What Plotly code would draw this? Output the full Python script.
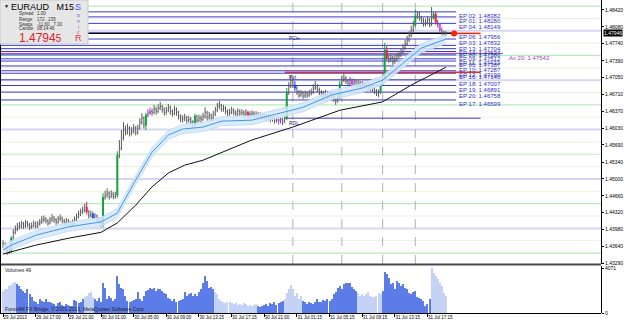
import plotly.graph_objects as go

W, H = 625, 324

# ---------------- data (prices x 1e4) ----------------
FIRST_OPEN = 14370
CLOSE = [14366,14362,14352,14356,14380,14392,14398,14403,14405,14409,
 14405,14411,14407,14403,14405,14409,14405,14409,14413,14417,
 14419,14415,14411,14417,14421,14417,14413,14419,14421,14415,
 14411,14415,14411,14407,14411,14417,14423,14429,14433,14437,
 14443,14433,14427,14429,14421,14425,14419,14415,14407,14463,
 14467,14471,14465,14469,14465,14467,14548,14562,14583,14599,
 14595,14603,14593,14597,14603,14593,14603,14615,14623,14609,
 14629,14633,14637,14635,14641,14637,14643,14647,14641,14635,
 14639,14645,14637,14633,14641,14635,14627,14623,14621,14625,
 14619,14621,14615,14611,14627,14619,14623,14621,14627,14635,
 14625,14629,14623,14631,14639,14647,14649,14641,14643,14637,
 14633,14635,14639,14635,14631,14637,14633,14635,14631,14635,
 14629,14631,14633,14629,14631,14627,14629,14625,14627,14623,
 14625,14621,14623,14619,14621,14617,14621,14617,14623,14676,
 14688,14700,14690,14684,14676,14670,14674,14668,14672,14670,
 14674,14676,14684,14688,14680,14676,14672,14670,14674,14668,
 14672,14666,14662,14658,14666,14692,14700,14704,14698,14694,
 14700,14692,14696,14690,14694,14688,14692,14688,14690,14686,
 14684,14682,14678,14674,14676,14692,14704,14761,14745,14741,
 14745,14737,14743,14749,14751,14757,14765,14773,14781,14791,
 14801,14811,14830,14834,14826,14822,14813,14817,14822,14813,
 14826,14834,14817,14813,14801,14797,14791,14794.5]
HIGH = [14376,14372,14366,14362,14384,14398,14406,14411,14413,14415,
 14413,14417,14415,14411,14412,14416,14414,14415,14419,14425,
 14426,14423,14419,14423,14429,14425,14421,14425,14428,14424,
 14419,14421,14419,14415,14418,14424,14430,14436,14440,14444,
 14450,14454,14437,14436,14434,14431,14428,14423,14418,14471,
 14476,14481,14475,14477,14474,14474,14556,14579,14599,14615,
 14608,14612,14607,14605,14611,14607,14610,14623,14633,14627,
 14634,14641,14645,14643,14650,14646,14651,14656,14650,14645,
 14646,14652,14648,14641,14648,14645,14638,14631,14629,14632,
 14628,14628,14625,14619,14632,14630,14630,14629,14634,14645,
 14638,14636,14632,14638,14646,14654,14658,14652,14650,14647,
 14641,14642,14646,14643,14639,14643,14641,14641,14639,14641,
 14638,14637,14639,14637,14637,14635,14635,14633,14633,14631,
 14631,14629,14629,14627,14627,14625,14627,14624,14629,14684,
 14696,14710,14704,14698,14688,14680,14680,14678,14679,14677,
 14680,14683,14692,14698,14692,14685,14680,14678,14680,14678,
 14678,14676,14670,14666,14672,14698,14708,14714,14708,14702,
 14706,14704,14702,14700,14700,14698,14698,14696,14696,14694,
 14692,14690,14686,14682,14681,14696,14712,14775,14769,14751,
 14752,14749,14750,14755,14758,14764,14773,14781,14790,14799,
 14810,14820,14842,14840,14838,14830,14826,14824,14829,14826,
 14848,14838,14838,14822,14815,14806,14800,14799]
LOW = [14360,14356,14346,14348,14350,14376,14388,14394,14398,14400,
 14399,14401,14402,14397,14399,14402,14400,14401,14405,14409,
 14412,14410,14405,14408,14413,14411,14407,14409,14414,14410,
 14404,14407,14405,14400,14403,14408,14414,14420,14425,14429,
 14432,14428,14420,14422,14416,14417,14413,14409,14402,14402,
 14458,14462,14458,14461,14459,14460,14462,14542,14558,14578,
 14588,14590,14586,14588,14592,14588,14590,14600,14610,14602,
 14599,14625,14629,14628,14631,14630,14633,14639,14634,14628,
 14630,14635,14630,14626,14629,14628,14620,14615,14614,14617,
 14612,14614,14608,14603,14606,14613,14615,14614,14617,14622,
 14618,14620,14616,14619,14627,14635,14641,14636,14636,14631,
 14627,14628,14631,14629,14625,14627,14628,14629,14626,14627,
 14624,14624,14626,14623,14624,14621,14622,14619,14620,14617,
 14618,14615,14616,14612,14614,14610,14612,14609,14613,14619,
 14670,14684,14684,14678,14670,14664,14666,14662,14664,14664,
 14666,14669,14672,14680,14675,14670,14666,14664,14666,14662,
 14664,14660,14656,14650,14654,14662,14688,14696,14692,14688,
 14690,14687,14688,14684,14686,14682,14684,14682,14683,14680,
 14678,14676,14672,14668,14666,14672,14688,14700,14740,14735,
 14737,14731,14733,14739,14744,14747,14753,14761,14769,14777,
 14787,14797,14807,14824,14820,14815,14808,14809,14812,14807,
 14809,14822,14812,14807,14797,14791,14787,14788]
VOLUME = [2006,2154,2213,2449,2508,2744,2803,2655,2449,2213,
 2006,1859,2154,1711,1416,1121,974,826,1269,1121,
 974,1269,1033,974,915,826,679,885,1033,738,
 679,826,738,620,679,1210,1121,915,1033,1269,
 1416,1564,1800,1918,1416,1269,1121,1328,974,2744,
 2301,1269,1564,1328,1121,1269,3334,2596,2301,2154,
 1564,1121,1033,1121,1210,1269,1918,1269,1121,1564,
 2006,2095,2301,2154,2301,2006,2154,2213,2006,1859,
 1711,1328,1269,1121,1269,1033,1121,1210,1269,1918,
 1564,1711,1800,1564,1711,1564,1918,2154,2744,3334,
 2891,2301,2390,2154,1918,1711,1269,1121,974,915,
 1033,974,915,826,885,767,826,738,915,826,
 679,738,620,738,826,679,531,620,738,826,
 679,915,826,974,738,915,974,1121,1269,1859,
 2154,2508,2213,1564,1859,1269,1564,1121,974,826,
 1033,915,826,1033,1269,1033,974,1210,1121,1269,
 1121,1269,1711,1918,2301,2449,2154,2596,2744,2744,
 2744,2390,2154,2006,1859,1564,1711,1564,1711,1918,
 1564,1416,1416,1564,1859,1711,2006,3776,3570,3186,
 2596,2744,2213,2891,2744,2449,2596,2301,2154,1859,
 1711,1918,2006,1416,1328,1269,1121,679,826,1269,
 4071,3688,3393,3098,2744,2449,1859,1564]
VOL_RUNS = [("L",7),("D",33),("L",5),("D",59),("L",21),("D",13),("L",9),("D",27),("L",12),("D",24),("L",8)]

GREEN_BARS = [4, 49, 56, 70, 94, 139, 165, 185, 187, 202, 211]
RED_BARS = [2, 41, 120, 188, 212]
BLUE_BARS = [44, 143]
PURPLE_BARS = [47, 72, 135, 171, 214]

# moving averages: (bar index, price x1e4)
MA_FAST_IDX = [0, 4, 16, 32, 48, 56, 65, 73, 81, 88, 98, 107, 122, 132, 147, 161, 176, 186, 196, 205, 217]
MA_FAST = [14356,14366,14386,14403,14413,14431,14498,14554,14589,14601,14605,14617,14619,14629,14645,14670,14684,14700,14734,14765,14783]
MA_SLOW_IDX = [0, 16, 32, 48, 56, 65, 73, 81, 89, 98, 122, 142, 165, 186, 200, 217]
MA_SLOW = [14348,14366,14380,14392,14411,14447,14484,14512,14528,14538,14579,14605,14639,14656,14690,14726]
BAND = 9

TIME_IDX = [0,16,32,48,64,80,96,112,128,144,160,176,192,208]
TIME_LABELS = ["29 Jul 2013","29 Jul 17:00","29 Jul 21:00","30 Jul 01:00","30 Jul 05:00","30 Jul 09:00",
               "30 Jul 13:15","30 Jul 17:15","30 Jul 21:00","31 Jul 01:15","31 Jul 05:15","31 Jul 09:15",
               "31 Jul 13:15","31 Jul 17:15"]
PRICE_TICKS = [1.48420,1.48080,1.47740,1.47390,1.47050,1.46710,1.46370,1.46030,1.45690,1.45340,
               1.45000,1.44660,1.44320,1.43980,1.43640,1.43290]
ROUND_LEVELS = [1.4850,1.4825,1.4800,1.4775,1.4750,1.4725,1.4700,1.4675,1.4650,1.4625,1.4600,1.4575,
                1.4550,1.4525,1.4500,1.4475,1.4450,1.4425,1.4400,1.4375,1.4350]

EP_NAMES = ["EP 02","EP 01","EP 04","EP 06","EP 03","EP 13","EP 14","EP 08","EP 09","EP 11","EP 05",
            "EP 10","EP 12","EP 16","EP 18","EP 19","EP 20","EP 17"]
EP_PRICES = [1.48382,1.48280,1.48149,1.47956,1.47832,1.47704,1.47637,1.47580,1.47512,1.47432,1.47387,
             1.47287,1.47190,1.47140,1.47007,1.46891,1.46758,1.46599]
AV20 = 1.47542
CURRENT = 1.47946
PIVOT = 1.47160
PCT = 1.47946
RDL = 1.46230
SESSION_IDX = [142, 166, 186, 202]

# ---------------- build ----------------
N = len(CLOSE)
X = list(range(N))
P = lambda v: v / 10000.0
close = [P(v) for v in CLOSE]
high = [P(v) for v in HIGH]
low = [P(v) for v in LOW]
opn = [P(FIRST_OPEN)] + close[:-1]

XR = [-1.5, 293]
XD = [0, 601 / W]
YD = [1 - 264 / H, 1]
YD2 = [1 - 313 / H, 1 - 266 / H]
YR = [1.43279, 1.48622]

def px(x):
    return x / W

def py(y):
    return 1 - y / H

fig = go.Figure()
shapes = []
annots = []

# round-number levels
for lv in ROUND_LEVELS:
    k = round(lv * 10000) % 100
    if k == 0:
        col, w = "#d6d6f4", 2
    elif k == 50:
        col, w = "#b8ecb8", 1.2
    else:
        col, w = "#efefe0", 1
    shapes.append(dict(type="line", xref="paper", yref="y", x0=0, x1=XD[1], y0=lv, y1=lv,
                       line=dict(color=col, width=w), layer="below"))

# session separators
for s in SESSION_IDX:
    shapes.append(dict(type="line", xref="x", yref="paper", x0=s, x1=s, y0=YD[0], y1=1,
                       line=dict(color="#b0b0b0", width=1, dash="dash"), layer="below"))

# EP lines
for name, pr in zip(EP_NAMES, EP_PRICES):
    shapes.append(dict(type="line", xref="x", yref="y", x0=XR[0], x1=222, y0=pr, y1=pr,
                       line=dict(color="#3838d0", width=1), layer="below"))
    annots.append(dict(x=222.5, y=pr, xref="x", yref="y", text=name + ": " + f"{pr:.5f}",
                       showarrow=False, xanchor="left", yanchor="top", yshift=1,
                       font=dict(family="Liberation Sans", size=6, color="#3030c8")))

# Av 20
shapes.append(dict(type="line", xref="x", yref="y", x0=XR[0], x1=245, y0=AV20, y1=AV20,
                   line=dict(color="#a040c0", width=1), layer="below"))
annots.append(dict(x=247, y=AV20, xref="x", yref="y", text=f"Av 20: {AV20:.5f}", showarrow=False,
                   xanchor="left", yanchor="top", yshift=0,
                   font=dict(family="Liberation Sans", size=6, color="#a040c0")))
# PCt line (black)
shapes.append(dict(type="line", xref="x", yref="y", x0=XR[0], x1=222, y0=PCT, y1=PCT,
                   line=dict(color="#000000", width=1.3), layer="below"))
annots.append(dict(x=139, y=PCT, xref="x", yref="y", text="PCt+", showarrow=False, xanchor="left",
                   yanchor="top", font=dict(family="Liberation Sans", size=5, color="#202060")))
# pivot (red) and RDL (blue)
shapes.append(dict(type="line", xref="x", yref="y", x0=138, x1=234, y0=PIVOT, y1=PIVOT,
                   line=dict(color="#e03020", width=1.5), layer="below"))
annots.append(dict(x=139, y=PIVOT, xref="x", yref="y", text="Pvt", showarrow=False, xanchor="left",
                   yanchor="top", font=dict(family="Liberation Sans", size=5, color="#202060")))
shapes.append(dict(type="line", xref="x", yref="y", x0=138, x1=234, y0=RDL, y1=RDL,
                   line=dict(color="#3838d0", width=1), layer="below"))
annots.append(dict(x=139, y=RDL, xref="x", yref="y", text="RDL", showarrow=False, xanchor="left",
                   yanchor="top", font=dict(family="Liberation Sans", size=5, color="#202060")))
# current price marker
shapes.append(dict(type="line", xref="x", yref="y", x0=221, x1=234, y0=CURRENT, y1=CURRENT,
                   line=dict(color="#ff2000", width=1.5)))

# MA band + lines
ma_f = [P(v) for v in MA_FAST]
fig.add_trace(go.Scatter(x=MA_FAST_IDX, y=[v - BAND / 10000 for v in ma_f], mode="lines",
                         line=dict(color="#c4def6", width=1), hoverinfo="skip", showlegend=False))
fig.add_trace(go.Scatter(x=MA_FAST_IDX, y=[v + BAND / 10000 for v in ma_f], mode="lines",
                         line=dict(color="#c4def6", width=1), fill="tonexty",
                         fillcolor="rgba(214,232,250,0.85)", hoverinfo="skip", showlegend=False))
fig.add_trace(go.Scatter(x=MA_FAST_IDX, y=ma_f, mode="lines", line=dict(color="#3a98f0", width=1),
                         hoverinfo="skip", showlegend=False))
fig.add_trace(go.Scatter(x=MA_SLOW_IDX, y=[P(v) for v in MA_SLOW], mode="lines",
                         line=dict(color="#101010", width=1), hoverinfo="skip", showlegend=False))

# bars
special = set(GREEN_BARS + RED_BARS + BLUE_BARS + PURPLE_BARS)
norm = [i for i in X if i not in special]
fig.add_trace(go.Ohlc(x=norm, open=[opn[i] for i in norm], high=[high[i] for i in norm],
                      low=[low[i] for i in norm], close=[close[i] for i in norm],
                      increasing=dict(line=dict(color="#5a5a5a", width=1)),
                      decreasing=dict(line=dict(color="#5a5a5a", width=1)),
                      tickwidth=0.35, showlegend=False, hoverinfo="skip"))
for idxs, col in [(GREEN_BARS, "#10a040"), (RED_BARS, "#e8204a"), (BLUE_BARS, "#2040ff"),
                  (PURPLE_BARS, "#d040ff")]:
    fig.add_trace(go.Candlestick(x=idxs, open=[opn[i] for i in idxs], high=[high[i] for i in idxs],
                                 low=[low[i] for i in idxs], close=[close[i] for i in idxs],
                                 increasing=dict(line=dict(color=col, width=1), fillcolor=col),
                                 decreasing=dict(line=dict(color=col, width=1), fillcolor=col),
                                 whiskerwidth=0, showlegend=False, hoverinfo="skip"))

fig.add_trace(go.Scatter(x=[221], y=[CURRENT], mode="markers",
                         marker=dict(color="#ff2000", size=6), showlegend=False, hoverinfo="skip"))

# volumes
vcols = []
for c, n in VOL_RUNS:
    vcols += [("#c4d2f6" if c == "L" else "#5c7ce8")] * n
fig.add_trace(go.Bar(x=X, y=VOLUME, marker=dict(color=vcols, line=dict(width=0)), width=0.55,
                     xaxis="x2", yaxis="y2", showlegend=False, hoverinfo="skip"))

# frames
shapes.append(dict(type="line", xref="paper", yref="paper", x0=0, x1=XD[1], y0=py(264.5), y1=py(264.5),
                   line=dict(color="#4a4a4a", width=2)))
shapes.append(dict(type="line", xref="paper", yref="paper", x0=0, x1=XD[1], y0=py(313.5), y1=py(313.5),
                   line=dict(color="#000000", width=1)))
shapes.append(dict(type="line", xref="paper", yref="paper", x0=px(0.5), x1=px(0.5), y0=py(313.5), y1=1,
                   line=dict(color="#000000", width=1)))

# info panel
shapes.append(dict(type="rect", xref="paper", yref="paper", x0=0, x1=px(88), y0=py(44), y1=1,
                   fillcolor="#e6e6e6", line=dict(color="#c8c8c8", width=1)))
def tx(x, y, t, size, color, xanchor="left", family="Liberation Sans"):
    annots.append(dict(x=px(x), y=py(y), xref="paper", yref="paper", text=t, showarrow=False,
                       xanchor=xanchor, yanchor="middle", font=dict(family=family, size=size, color=color)))
tx(2, 6, "▼", 5, "#000000")
tx(9, 7, "EURAUD   M15", 9, "#000000")
for k, (a, b) in enumerate([("Spread", "1.00"), ("Range", "172 , 235"), ("Swaps", "-11.60 , 7.30"),
                            ("Candle", "08:14:46")]):
    tx(17, 14 + 5 * k, a, 4.5, "#303030")
    tx(35, 14 + 5 * k, b, 4.5, "#303030")
tx(17, 38, "1.4794<span style='font-size:10px'>5</span>", 12, "#e0202c")
tx(78, 7, "S", 9, "#4050ff", "center")
tx(78, 15, "o", 5, "#5050e0", "center")
tx(78, 21, "n", 5, "#6050d8", "center")
tx(78, 27, "i", 5, "#9050c0", "center")
tx(78, 32, "c", 5, "#d05090", "center")
tx(78, 38, "R", 9, "#e03050", "center")

# volume pane texts
tx(3, 270, "Volumes 49", 5, "#202020")
tx(3, 309, "Forex4M FX Bridge, © 2001-2013, MetaQuotes Software Corp.", 5, "#202020")

# current price box on axis
annots.append(dict(x=XD[1], y=CURRENT, xref="paper", yref="y", text="1.47946", showarrow=False,
                   xanchor="left", yanchor="middle", xshift=2, bgcolor="#000000",
                   font=dict(family="Liberation Sans", size=5, color="#ffffff"), borderpad=0))

fig.update_layout(
    width=W, height=H, margin=dict(l=0, r=0, t=0, b=0, autoexpand=False),
    paper_bgcolor="#ffffff", plot_bgcolor="#ffffff", showlegend=False,
    xaxis=dict(domain=XD, range=XR, anchor="y", showticklabels=False, showgrid=False,
               zeroline=False, rangeslider=dict(visible=False), automargin=False),
    yaxis=dict(domain=YD, range=YR, side="right", anchor="x", tickvals=PRICE_TICKS,
               ticktext=[f"{v:.5f}" for v in PRICE_TICKS], ticks="outside", ticklen=2,
               tickcolor="#000000", tickfont=dict(family="Liberation Sans", size=5, color="#000000"),
               showline=True, linecolor="#000000", linewidth=1, showgrid=False, zeroline=False,
               automargin=False),
    xaxis2=dict(domain=XD, range=XR, anchor="y2", matches="x", tickvals=TIME_IDX, ticktext=TIME_LABELS,
                ticks="outside", ticklen=3, tickcolor="#000000", ticklabelposition="outside right",
                tickangle=0, automargin=False,
                tickfont=dict(family="Liberation Sans", size=4.5, color="#000000"),
                showgrid=False, zeroline=False, showline=False),
    yaxis2=dict(domain=YD2, range=[0, 4280], side="right", anchor="x2", tickvals=[0, 4071],
                ticktext=["0", "4071"], ticks="outside", ticklen=2, tickcolor="#000000",
                tickfont=dict(family="Liberation Sans", size=5, color="#000000"),
                showline=True, linecolor="#000000", linewidth=1, showgrid=False, zeroline=False,
                automargin=False),
    shapes=shapes, annotations=annots, bargap=0,
)

fig.write_html("out.html")
